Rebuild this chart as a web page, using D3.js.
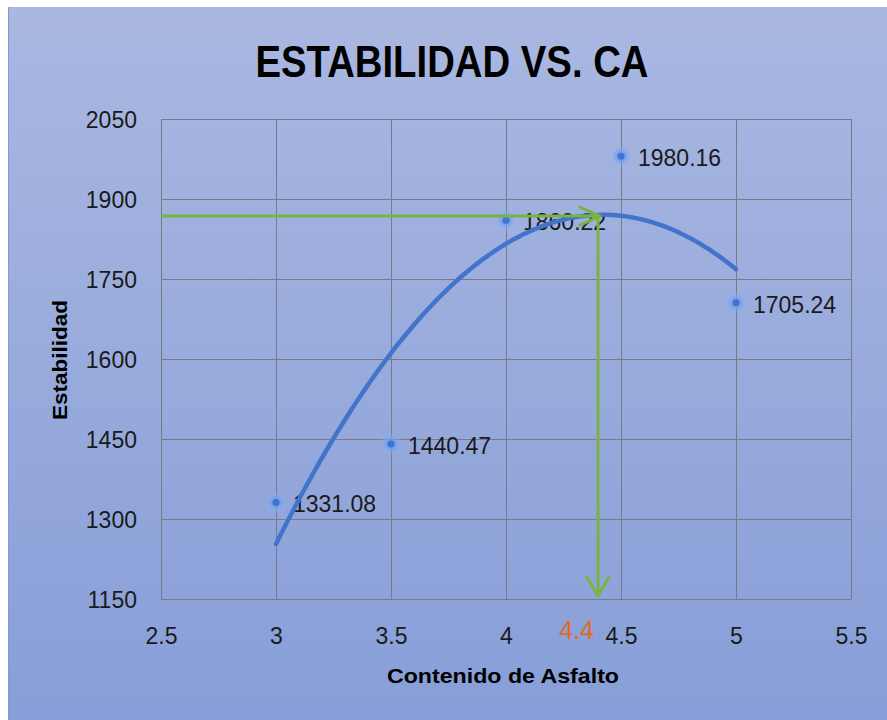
<!DOCTYPE html>
<html>
<head>
<meta charset="utf-8">
<script src="https://cdn.jsdelivr.net/npm/d3@7"></script>
<style>
html,body{margin:0;padding:0;background:#fff;}
svg{display:block;}
</style>
</head>
<body>
<svg id="chart" width="887" height="720"></svg>
<script>
// ---- data ----
const contenido = [3, 3.5, 4, 4.5, 5];
const estabilidad = [1331.08, 1440.47, 1860.22, 1980.16, 1705.24];
const xTicks = [2.5, 3, 3.5, 4, 4.5, 5, 5.5];
const yTicks = [1150, 1300, 1450, 1600, 1750, 1900, 2050];
const optimoX = 4.4;      // green annotation
const optimoY = 1868;
const titulo = "ESTABILIDAD VS. CA";
const xTitulo = "Contenido de Asfalto";
const yTitulo = "Estabilidad";

const svg = d3.select("#chart");
const W = 887, H = 720;

// background
const defs = svg.append("defs");
const bg = defs.append("linearGradient").attr("id","bg").attr("x1",0).attr("y1",0).attr("x2",0).attr("y2",1);
bg.append("stop").attr("offset","0%").attr("stop-color","#aab8e1");
bg.append("stop").attr("offset","100%").attr("stop-color","#879ed8");
const glow = defs.append("radialGradient").attr("id","glow");
glow.append("stop").attr("offset","0%").attr("stop-color","#5b8ff0").attr("stop-opacity",1);
glow.append("stop").attr("offset","55%").attr("stop-color","#76a4f2").attr("stop-opacity",0.7);
glow.append("stop").attr("offset","100%").attr("stop-color","#9ab8f0").attr("stop-opacity",0);

svg.append("rect").attr("x",8).attr("y",7).attr("width",W-8).attr("height",H-7).attr("fill","url(#bg)");
svg.append("line").attr("x1",8.5).attr("x2",8.5).attr("y1",7).attr("y2",H).attr("stroke","#7f9ad8").attr("stroke-width",1);

// scales
const x = d3.scaleLinear().domain([2.5, 5.5]).range([161, 851]);
const y = d3.scaleLinear().domain([1150, 2050]).range([599, 119]);

// grid
const grid = svg.append("g");
grid.selectAll("line.v").data(xTicks).join("line")
  .attr("x1",d=>Math.round(x(d))+0.5).attr("x2",d=>Math.round(x(d))+0.5)
  .attr("y1",y(2050)).attr("y2",y(1150))
  .attr("stroke","#777b88").attr("stroke-width",1);
grid.selectAll("line.h").data(yTicks).join("line")
  .attr("y1",d=>Math.round(y(d))+0.5).attr("y2",d=>Math.round(y(d))+0.5)
  .attr("x1",x(2.5)).attr("x2",x(5.5))
  .attr("stroke","#777b88").attr("stroke-width",1);

// axes (labels only)
const font = "'Liberation Sans', Arial, sans-serif";
const yAxis = svg.append("g").attr("transform",`translate(${x(2.5)},0)`)
  .call(d3.axisLeft(y).tickValues(yTicks).tickSize(0).tickPadding(24).tickFormat(d3.format("d")));
yAxis.select(".domain").remove();
yAxis.selectAll("text").attr("font-family",font).attr("font-size",23).attr("fill","#1a1a1a").attr("dy","0.35em");

const xAxis = svg.append("g").attr("transform",`translate(0,${y(1150)})`)
  .call(d3.axisBottom(x).tickValues(xTicks).tickSize(0).tickPadding(26).tickFormat(d=>String(d)));
xAxis.select(".domain").remove();
xAxis.selectAll("text").attr("font-family",font).attr("font-size",23).attr("fill","#1a1a1a").attr("dy","0.35em").attr("y",37);

// title
svg.append("text").attr("x",452).attr("y",77).attr("text-anchor","middle")
  .attr("font-family","'Liberation Sans Narrow','Liberation Sans',Arial,sans-serif").attr("font-weight","bold")
  .attr("font-size",44).attr("fill","#000")
  .attr("textLength",393).attr("lengthAdjust","spacingAndGlyphs").text(titulo);

// axis titles
svg.append("text").attr("x",503).attr("y",683).attr("text-anchor","middle")
  .attr("font-family",font).attr("font-weight","bold").attr("font-size",20).attr("fill","#000")
  .attr("textLength",232).attr("lengthAdjust","spacingAndGlyphs").text(xTitulo);
svg.append("text").attr("transform","translate(67,360) rotate(-90)").attr("text-anchor","middle")
  .attr("font-family",font).attr("font-weight","bold").attr("font-size",20).attr("fill","#000")
  .attr("textLength",120).attr("lengthAdjust","spacingAndGlyphs").text(yTitulo);

const pts = contenido.map((c,i)=>({c, e:estabilidad[i]}));

// data labels (beneath the lines, as in the reference)
svg.selectAll("text.lbl").data(pts).join("text")
  .attr("x",d=>x(d.c)+17).attr("y",d=>y(d.e)+2).attr("dy","0.35em")
  .attr("font-family",font).attr("font-size",23).attr("fill","#1a1a1a")
  .text(d=>d.e.toFixed(2));

// points with glow
svg.selectAll("circle.g").data(pts).join("circle")
  .attr("cx",d=>x(d.c)).attr("cy",d=>y(d.e)).attr("r",11).attr("fill","url(#glow)");
svg.selectAll("circle.p").data(pts).join("circle")
  .attr("cx",d=>x(d.c)).attr("cy",d=>y(d.e)).attr("r",3.5).attr("fill","#3f74cf");

// quadratic least-squares trend line (computed from the data, like the spreadsheet trendline)
function polyFit2(xs, ys){
  let n=xs.length,S=[0,0,0,0,0],T=[0,0,0];
  for(let i=0;i<n;i++){let p=1;for(let k=0;k<5;k++){S[k]+=p; if(k<3)T[k]+=p*ys[i]; p*=xs[i];}}
  const A=[[S[0],S[1],S[2],T[0]],[S[1],S[2],S[3],T[1]],[S[2],S[3],S[4],T[2]]];
  for(let c=0;c<3;c++){for(let r=c+1;r<3;r++){const f=A[r][c]/A[c][c];for(let k=c;k<4;k++)A[r][k]-=f*A[c][k];}}
  const s=[0,0,0];
  for(let r=2;r>=0;r--){let v=A[r][3];for(let k=r+1;k<3;k++)v-=A[r][k]*s[k];s[r]=v/A[r][r];}
  return s;
}
const coef = polyFit2(contenido, estabilidad);
const trendX = d3.range(0,101).map(i=>contenido[0]+(contenido[contenido.length-1]-contenido[0])*i/100);
const trend = trendX.map(v=>[v, coef[0]+coef[1]*v+coef[2]*v*v]);
svg.append("path").datum(trend)
  .attr("d",d3.line().x(d=>x(d[0])).y(d=>y(d[1])).curve(d3.curveBasis))
  .attr("fill","none").attr("stroke","#4374cc").attr("stroke-width",4.5).attr("stroke-linecap","round");

// green annotation
const G = "#78b343";
const ax = x(optimoX), ay = y(optimoY), bottom = y(1150)-3;
svg.append("line").attr("x1",x(2.5)).attr("x2",ax+1).attr("y1",ay).attr("y2",ay).attr("stroke",G).attr("stroke-width",3);
svg.append("path").attr("d",`M${ax-18},${ay-9}L${ax+2},${ay}L${ax-18},${ay+9}`)
  .attr("fill","none").attr("stroke",G).attr("stroke-width",3).attr("stroke-linejoin","round").attr("stroke-linecap","round");
svg.append("line").attr("x1",ax).attr("x2",ax).attr("y1",ay).attr("y2",bottom).attr("stroke",G).attr("stroke-width",3);
svg.append("path").attr("d",`M${ax-11},${bottom-19}L${ax},${bottom}L${ax+11},${bottom-19}`)
  .attr("fill","none").attr("stroke",G).attr("stroke-width",3).attr("stroke-linejoin","round").attr("stroke-linecap","round");

// orange optimum label
svg.append("text").attr("x",ax-4).attr("y",630).attr("dy","0.35em").attr("text-anchor","end")
  .attr("font-family",font).attr("font-size",25).attr("fill","#e26a1c").text(String(optimoX));
</script>
</body>
</html>
